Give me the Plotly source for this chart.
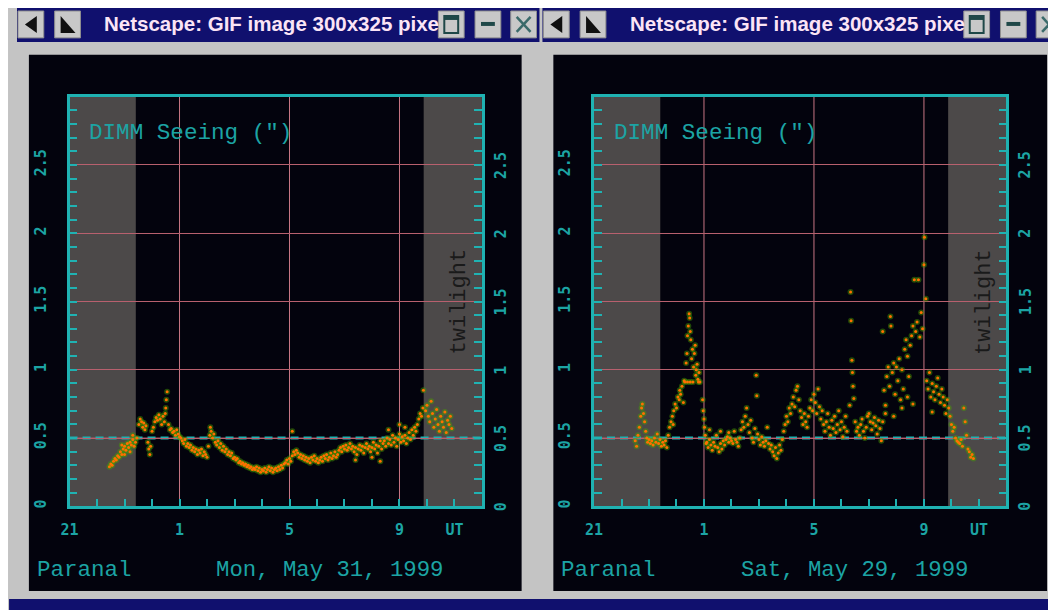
import plotly.graph_objects as go

# ---------------- data (UT hours, 21..36 ; 25 = 1 UT) ----------------
# Mon, May 31, 1999
T31 = [22.45, 22.50, 22.55, 22.60, 22.65, 22.70, 22.75, 22.80, 22.85, 22.90, 22.95, 23.00, 23.05, 23.10, 23.15,
       23.20, 23.25, 23.30, 23.35, 23.40, 23.45, 22.90, 23.00, 23.20, 23.30,
       23.52, 23.57, 23.62, 23.66, 23.70, 23.74, 23.78, 23.85, 23.88, 23.92, 23.95, 24.00, 24.05,
       24.10, 24.15, 24.20, 24.25, 24.30, 24.35, 24.40, 24.45, 24.50, 24.52, 24.55, 24.48, 24.60, 24.65,
       24.70, 24.75, 24.80, 24.85, 24.90, 24.95, 25.00, 25.05,
       25.10, 25.15, 25.20, 25.25, 25.30, 25.35, 25.40, 25.45, 25.50, 25.55, 25.60, 25.65, 25.70, 25.75,
       25.80, 25.85, 25.90, 25.95, 26.00,
       26.05, 26.10, 26.12, 26.15, 26.20, 26.25, 26.30,
       26.35, 26.40, 26.45, 26.50, 26.55, 26.60, 26.65, 26.70, 26.75, 26.80, 26.85, 26.90, 26.95, 27.00,
       27.05, 27.10, 27.15, 27.20, 27.25, 27.30, 27.35, 27.40, 27.45, 27.50, 27.55, 27.60, 27.65, 27.70,
       27.75, 27.80, 27.85, 27.90, 27.95, 28.00, 28.05, 28.10, 28.15, 28.20, 28.25, 28.30, 28.35, 28.40,
       28.45, 28.50, 28.55, 28.60, 28.65, 28.70, 28.75, 28.80,
       28.85, 28.90, 28.95, 29.00, 29.05, 29.10, 29.15, 29.20, 29.25, 29.30, 29.35, 29.40, 29.45, 29.50,
       29.55, 29.60, 29.10,
       29.65, 29.70, 29.75, 29.80, 29.85, 29.90, 29.95, 30.00, 30.05, 30.10, 30.15, 30.20, 30.25, 30.30,
       30.35, 30.40, 30.45, 30.50, 30.55, 30.60, 30.65, 30.70, 30.75, 30.80,
       30.85, 30.90, 30.95, 31.00, 31.05, 31.10, 31.15, 31.20, 31.25, 31.30, 31.35, 31.40, 31.45, 31.50,
       31.55, 31.60, 31.65, 31.70, 31.75, 31.80, 31.85, 31.90, 31.95, 32.00, 32.05, 32.10, 32.15, 32.20,
       32.25, 32.30, 32.35, 32.40, 31.40, 32.00, 32.30,
       32.45, 32.50, 32.55, 32.60, 32.65, 32.70, 32.75, 32.80, 32.85, 32.90, 32.95, 33.00, 33.05, 33.10,
       33.15, 33.20, 33.25, 33.30, 33.35, 33.40, 33.45, 33.50, 33.55, 33.60, 32.60, 33.00, 33.20,
       33.65, 33.70, 33.75, 33.80, 33.85, 33.87,
       33.95, 34.00, 34.05, 34.10, 34.15, 34.20, 34.25, 34.30, 34.35, 34.40, 34.45, 34.50, 34.55, 34.60,
       34.65, 34.70, 34.75, 34.80, 34.85, 34.90]
S31 = [0.29, 0.31, 0.30, 0.33, 0.35, 0.34, 0.37, 0.36, 0.40, 0.38, 0.42, 0.44, 0.41, 0.46, 0.43,
       0.47, 0.45, 0.49, 0.44, 0.47, 0.50, 0.45, 0.38, 0.40, 0.52,
       0.60, 0.64, 0.62, 0.58, 0.61, 0.56, 0.59, 0.47, 0.42, 0.38, 0.44, 0.55, 0.58,
       0.62, 0.65, 0.63, 0.67, 0.64, 0.60, 0.66, 0.62, 0.72, 0.78, 0.84, 0.68, 0.60, 0.56,
       0.57, 0.54, 0.55, 0.52, 0.56, 0.53, 0.51, 0.50,
       0.48, 0.46, 0.49, 0.44, 0.46, 0.43, 0.45, 0.41, 0.43, 0.40, 0.42, 0.38, 0.41, 0.39,
       0.42, 0.37, 0.40, 0.38, 0.36,
       0.44, 0.52, 0.58, 0.55, 0.50, 0.53, 0.47,
       0.45, 0.48, 0.43, 0.46, 0.41, 0.44, 0.40, 0.42, 0.38, 0.40, 0.37, 0.39, 0.35, 0.36,
       0.34, 0.35, 0.32, 0.33, 0.31, 0.32, 0.30, 0.31, 0.29, 0.30, 0.28, 0.29, 0.27, 0.28,
       0.27, 0.29, 0.26, 0.28, 0.25, 0.27, 0.26, 0.28, 0.25, 0.27, 0.29, 0.26, 0.28, 0.25,
       0.27, 0.28, 0.26, 0.29, 0.27, 0.30, 0.28, 0.31,
       0.32, 0.34, 0.31, 0.35, 0.33, 0.37, 0.40, 0.38, 0.41, 0.39, 0.36, 0.38, 0.35, 0.37,
       0.34, 0.36, 0.55,
       0.33, 0.35, 0.32, 0.36, 0.34, 0.37, 0.33, 0.35, 0.32, 0.34, 0.36, 0.33, 0.37, 0.35,
       0.38, 0.34, 0.36, 0.39, 0.35, 0.37, 0.40, 0.36, 0.38, 0.41,
       0.43, 0.40, 0.44, 0.42, 0.45, 0.41, 0.43, 0.46, 0.42, 0.44, 0.40, 0.43, 0.38, 0.42,
       0.45, 0.41, 0.44, 0.39, 0.43, 0.46, 0.42, 0.44, 0.40, 0.43, 0.47, 0.42, 0.45, 0.39,
       0.44, 0.48, 0.42, 0.46, 0.34, 0.36, 0.33,
       0.48, 0.44, 0.50, 0.46, 0.49, 0.45, 0.52, 0.47, 0.50, 0.44, 0.49, 0.53, 0.47, 0.51,
       0.48, 0.52, 0.46, 0.50, 0.54, 0.49, 0.56, 0.52, 0.58, 0.55, 0.56, 0.60, 0.58,
       0.60, 0.64, 0.68, 0.66, 0.72, 0.85,
       0.70, 0.74, 0.66, 0.62, 0.77, 0.68, 0.58, 0.64, 0.71, 0.60, 0.55, 0.66, 0.62, 0.58,
       0.69, 0.54, 0.63, 0.60, 0.66, 0.57]

# Sat, May 29, 1999
T29 = [22.50, 22.55, 22.60, 22.65, 22.70, 22.73, 22.76, 22.80, 22.84, 22.88, 22.92, 22.95, 23.00, 23.05,
       23.10, 23.15, 23.20, 23.25, 23.30, 23.35, 23.40, 23.45, 23.50, 23.55, 23.60, 23.65,
       23.70, 23.75, 23.80, 23.85, 23.88, 23.90, 23.95, 24.00, 24.05, 24.10, 24.12, 24.15, 24.20, 24.25, 24.28,
       24.30, 24.35, 24.38, 24.40, 24.43, 24.46, 24.48, 24.50, 24.52, 24.55, 24.58, 24.60, 24.62, 24.65,
       24.68, 24.70, 24.72, 24.75, 24.78, 24.80, 24.82, 24.85, 24.50, 24.40,
       24.95, 24.97, 25.00, 25.02, 25.05, 25.08,
       25.10, 25.15, 25.20, 25.25, 25.30, 25.35, 25.40, 25.45, 25.50, 25.55, 25.60, 25.65, 25.70, 25.75,
       25.80, 25.85, 25.90, 25.95, 26.00, 26.05, 26.10, 26.15, 26.20, 26.25, 25.20, 25.60, 25.90,
       26.30, 26.35, 26.40, 26.45, 26.50, 26.55, 26.60, 26.65, 26.70, 26.75, 26.80, 26.85, 26.90, 26.92,
       26.95, 27.00, 27.05, 27.10, 27.15, 27.20, 27.25, 27.30, 27.35, 27.40,
       27.45, 27.50, 27.55, 27.60, 27.65, 27.70, 27.75, 27.80, 27.85,
       27.90, 27.95, 28.00, 28.05, 28.10, 28.15, 28.20, 28.25, 28.30, 28.35, 28.40, 28.45, 28.50, 28.55,
       28.60, 28.65,
       28.70, 28.75, 28.80, 28.85, 28.90, 28.95, 29.00, 29.05, 29.10, 29.15, 29.20, 29.25, 29.30,
       29.35, 29.40, 29.45, 29.50, 29.55, 29.60, 29.65, 29.70, 29.75, 29.80, 29.85, 29.90, 29.95, 30.00,
       30.05, 30.10, 30.15, 30.20,
       30.30, 30.33, 30.35, 30.38, 30.40, 30.42, 30.45,
       30.50, 30.55, 30.60, 30.65, 30.70, 30.75, 30.80, 30.85, 30.90, 30.95, 31.00, 31.05, 31.10, 31.15,
       31.20, 31.25, 31.30, 31.35, 31.40, 31.45,
       31.50, 31.55, 31.78, 31.80, 31.65, 31.70, 31.75, 31.60, 31.85, 31.90, 31.95, 32.00, 32.05, 32.10,
       32.15, 32.20, 32.25, 32.30, 32.35, 32.40, 32.45, 32.50, 32.55, 32.60, 32.65, 32.70, 32.75, 32.80,
       32.85, 32.90, 32.95, 33.00, 33.02, 33.07,
       31.60, 31.90, 32.20, 32.40, 32.60, 31.50,
       33.10, 33.15, 33.20, 33.25, 33.30, 33.35, 33.40, 33.45, 33.50, 33.55, 33.60, 33.65, 33.70, 33.75,
       33.80, 33.30,
       33.85, 33.90, 33.95, 34.00, 34.05, 34.10, 34.15, 34.20, 34.25, 34.30, 34.35, 34.40, 34.45, 34.50,
       34.55, 34.60, 34.65, 34.70, 34.75, 34.80]
S29 = [0.48, 0.44, 0.52, 0.58, 0.66, 0.72, 0.75, 0.68, 0.62, 0.55, 0.50, 0.47, 0.49, 0.46,
       0.48, 0.45, 0.50, 0.47, 0.53, 0.46, 0.49, 0.44, 0.47, 0.45, 0.48, 0.43,
       0.52, 0.58, 0.62, 0.66, 0.60, 0.70, 0.75, 0.72, 0.80, 0.78, 0.85, 0.82, 0.88, 0.76, 0.92,
       0.91, 1.05, 1.12, 1.25, 1.32, 1.41, 1.38, 1.28, 1.22, 1.08, 1.15, 0.91, 1.02, 1.12,
       1.18, 0.96, 1.00, 1.04, 0.93, 0.91, 0.98, 0.91, 0.91, 0.91,
       0.78, 0.70, 0.64, 0.58, 0.52, 0.46,
       0.47, 0.43, 0.49, 0.45, 0.41, 0.47, 0.44, 0.52, 0.43, 0.40, 0.46, 0.42, 0.48, 0.45,
       0.49, 0.51, 0.47, 0.50, 0.48, 0.46, 0.55, 0.49, 0.47, 0.44, 0.56, 0.55, 0.54,
       0.50, 0.56, 0.62, 0.58, 0.66, 0.72, 0.60, 0.54, 0.63, 0.50, 0.47, 0.57, 0.96, 0.81,
       0.53, 0.49, 0.45, 0.51, 0.47, 0.44, 0.48, 0.58, 0.46, 0.42,
       0.45, 0.40, 0.37, 0.43, 0.35, 0.39, 0.45, 0.41, 0.49,
       0.55, 0.60, 0.66, 0.62, 0.72, 0.68, 0.75, 0.80, 0.73, 0.85, 0.88, 0.78, 0.70, 0.65,
       0.60, 0.68,
       0.62, 0.58, 0.66, 0.72, 0.78, 0.70, 0.82, 0.76, 0.68, 0.86, 0.73, 0.64, 0.70,
       0.60, 0.55, 0.62, 0.68, 0.58, 0.52, 0.63, 0.57, 0.66, 0.54, 0.60, 0.70, 0.56, 0.62,
       0.51, 0.58, 0.66, 0.55,
       0.74, 1.57, 1.36, 1.07, 0.98, 0.88, 0.79,
       0.62, 0.55, 0.58, 0.52, 0.60, 0.64, 0.55, 0.50, 0.58, 0.66, 0.68, 0.62, 0.56, 0.61,
       0.65, 0.59, 0.53, 0.63, 0.57, 0.48,
       0.62, 0.85, 1.39, 1.32, 0.95, 1.02, 0.88, 0.74, 0.98, 1.05, 0.82, 1.02, 0.92, 1.08,
       0.78, 1.00, 0.86, 1.15, 1.22, 1.10, 0.95, 1.18, 1.25, 1.32, 1.66, 1.28, 1.35, 1.66,
       1.24, 1.42, 1.30, 1.77, 1.97, 1.52,
       0.68, 0.66, 0.72, 0.80, 0.75, 1.28,
       0.92, 0.86, 0.98, 0.80, 0.90, 0.84, 0.78, 0.88, 0.94, 0.82, 0.76, 0.86, 0.80, 0.74,
       0.68, 0.69,
       0.78, 0.72, 0.66, 0.60, 0.55, 0.58, 0.50, 0.48, 0.47, 0.46, 0.49, 0.44, 0.72, 0.62,
       0.52, 0.42, 0.40, 0.36, 0.38, 0.35]

x_tickvals = [21, 25, 29, 33, 35]
x_ticktext = ["21", "1", "5", "9", "UT"]
y_tickvals = [0, 0.5, 1, 1.5, 2, 2.5]
y_ticktext = ["0", "0.5", "1", "1.5", "2", "2.5"]
grid_hours = [25, 29, 33]
evening_twilight = [21, 23.41]
morning_twilight = [33.88, 36]
reference_seeing = 0.5
x_range = [21, 36]
y_range = [0, 3]

# ---------------- canvas geometry ----------------
# The page body keeps its default 8 px margin (left and top), so the figure
# is 1048 x 602 and a screen position (X, Y) maps to paper ((X-8)/W, 1-(Y-8)/H).
OX, OY = 8, 8
W, H = 1048, 602


def px(X):
    return (X - OX) / W


def py(Y):
    return 1 - (Y - OY) / H


# ---------------- styling ----------------
CYAN = "#1fb2b2"
TXT = "#1ca4a4"
GRID = "#b8606e"
SHADE = "#4c4949"
BLACK = "#03030d"
NAVY = "#10106e"
GRAY = "#c4c4c4"
ICON = "#1f4848"
MONO = "Liberation Mono"
TICKFONT = dict(family="DejaVu Sans Mono", size=15, color=TXT, weight="bold")

panels = [
    dict(t=T31, s=S31, xa="x", ya="y", xd=[px(61), px(477)], off=0, date="Mon, May 31, 1999"),
    dict(t=T29, s=S29, xa="x2", ya="y2", xd=[px(590), px(1006)], off=529, date="Sat, May 29, 1999"),
]
ydom = [py(508), py(97)]

fig = go.Figure()
shapes = []
annotations = []


def prect(x0, y0, x1, y1, color, line=None):
    return dict(type="rect", xref="paper", yref="paper", x0=px(x0), x1=px(x1),
                y0=py(y1), y1=py(y0), fillcolor=color,
                line=line if line else dict(width=0), layer="below")


def ppath(pts, color):
    d = "M " + " L ".join(f"{px(x):.5f},{py(y):.5f}" for x, y in pts) + " Z"
    return dict(type="path", xref="paper", yref="paper", path=d, fillcolor=color,
                line=dict(width=0), layer="below")


def pline(x0, y0, x1, y1, color, width):
    return dict(type="line", xref="paper", yref="paper", x0=px(x0), x1=px(x1),
                y0=py(y0), y1=py(y1), line=dict(color=color, width=width), layer="below")


# page chrome
shapes.append(prect(0, 0, 1056, 602, GRAY))
shapes.append(prect(0, 601, 1056, 612, NAVY))
for k, (wx0, wx1) in enumerate([(8, 535), (538, 1056)]):
    off = 0 if k == 0 else 530
    shapes.append(prect(wx0, 8, wx1, 42, NAVY))
    for bx in [9, 46, 433, 470, 506]:
        shapes.append(prect(bx + off, 11, bx + off + 26, 38, "#c8c8c8",
                            dict(color="#909090", width=1)))
    shapes.append(ppath([(16 + off, 24.5), (28 + off, 16), (28 + off, 33)], "#101010"))
    shapes.append(ppath([(52 + off, 16), (52 + off, 33), (67 + off, 33)], "#101010"))
    shapes.append(prect(439 + off, 16, 453 + off, 33, "#c8c8c8", dict(color=ICON, width=2)))
    shapes.append(prect(439 + off, 16, 453 + off, 20, ICON))
    shapes.append(prect(476 + off, 22, 490 + off, 26, ICON))
    shapes.append(pline(512 + off, 17, 526 + off, 32, "#3a6a6a", 2.5))
    shapes.append(pline(512 + off, 32, 526 + off, 17, "#3a6a6a", 2.5))
    annotations.append(dict(xref="paper", yref="paper", x=px(94 + off), y=py(24),
                            xanchor="left", yanchor="middle",
                            text="<b>Netscape: GIF image 300x325 pixe</b>", showarrow=False,
                            font=dict(size=20.5, color="#fbe4f6", family="Liberation Sans")))

for k, p in enumerate(panels):
    off = p["off"]
    shapes.append(prect(20 + off, 55, 517 + off + (1 if k else 0), 593, BLACK))
    xa, ya = p["xa"], p["ya"]
    xref = xa
    yref = ya
    yref_dom = yref + " domain"
    for (a, b) in [evening_twilight, morning_twilight]:
        shapes.append(dict(type="rect", xref=xref, yref=yref_dom, x0=a, x1=b, y0=0, y1=1,
                           fillcolor=SHADE, line=dict(width=0), layer="below"))
    for g in grid_hours:
        shapes.append(dict(type="line", xref=xref, yref=yref_dom, x0=g, x1=g, y0=0, y1=1,
                           line=dict(color="#c87684", width=1), layer="below"))
    shapes.append(dict(type="line", xref=xref, yref=yref, x0=x_range[0], x1=x_range[1],
                       y0=reference_seeing, y1=reference_seeing,
                       line=dict(color=GRID, width=1), layer="below"))
    shapes.append(dict(type="line", xref=xref, yref=yref, x0=x_range[0], x1=x_range[1],
                       y0=reference_seeing, y1=reference_seeing,
                       line=dict(color=CYAN, width=3, dash="8px,5px"), layer="below"))

    fig.add_trace(go.Scatter(x=p["t"], y=p["s"], mode="markers", xaxis=xa, yaxis=ya,
                             marker=dict(size=6, color="rgba(70,160,0,0.45)", line=dict(width=0)),
                             hoverinfo="skip", showlegend=False))
    fig.add_trace(go.Scatter(x=p["t"], y=p["s"], mode="markers", xaxis=xa, yaxis=ya,
                             marker=dict(size=3, color="#ff7000", line=dict(width=0)),
                             hoverinfo="skip", showlegend=False))

    # right-hand tick labels, placed on the y scale
    for v, lab in zip(y_tickvals, y_ticktext):
        annotations.append(dict(xref=xref + " domain", yref=yref, x=1, y=v, text=lab,
                                xanchor="center", yanchor="middle", xshift=19,
                                textangle=-90, showarrow=False, font=TICKFONT))

    annotations.append(dict(xref="paper", yref="paper", x=px(79 + off), y=py(133),
                            xanchor="left", yanchor="middle", text='DIMM Seeing (")',
                            showarrow=False, font=dict(size=22.6, color=TXT, family=MONO)))
    annotations.append(dict(xref=xref, yref=yref, x=35.2, y=1.5, text="twilight",
                            textangle=-90, showarrow=False,
                            font=dict(size=22, color="#1a1a1a", family=MONO)))
    annotations.append(dict(xref="paper", yref="paper", x=px(26 + off), y=py(572),
                            xanchor="left", yanchor="middle", text="Paranal",
                            showarrow=False, font=dict(size=22.5, color=TXT, family=MONO)))
    annotations.append(dict(xref="paper", yref="paper", x=px(207 + off), y=py(572),
                            xanchor="left", yanchor="middle", text=p["date"],
                            showarrow=False, font=dict(size=22.3, color=TXT, family=MONO)))


def xaxis(dom, anchor):
    return dict(domain=dom, anchor=anchor, range=x_range, showgrid=False, zeroline=False,
                showline=True, linecolor=CYAN, linewidth=2.5, mirror=True,
                ticks="inside", ticklen=8, tickwidth=2, tickcolor=CYAN,
                tickmode="array", tickvals=x_tickvals, ticktext=x_ticktext, tickfont=TICKFONT,
                minor=dict(tick0=21, dtick=1, ticks="inside", ticklen=8, tickwidth=2,
                           tickcolor=CYAN, showgrid=False),
                ticklabelstandoff=8, fixedrange=True)


def yaxis(anchor):
    return dict(domain=ydom, anchor=anchor, range=y_range, zeroline=False,
                showline=True, linecolor=CYAN, linewidth=2.5, mirror="allticks",
                ticks="inside", ticklen=8, tickwidth=2, tickcolor=CYAN,
                tickmode="array", tickvals=y_tickvals, ticktext=y_ticktext, tickfont=TICKFONT,
                tickangle=-90,
                minor=dict(tick0=0, dtick=0.1, ticks="inside", ticklen=8, tickwidth=2,
                           tickcolor=CYAN, showgrid=False),
                showgrid=True, gridcolor=GRID, gridwidth=1, ticklabelstandoff=15,
                fixedrange=True)


fig.update_layout(
    width=W, height=H, autosize=False,
    margin=dict(l=0, r=0, t=0, b=0, pad=0),
    paper_bgcolor=GRAY, plot_bgcolor="rgba(0,0,0,0)",
    showlegend=False,
    xaxis=xaxis(panels[0]["xd"], "y"),
    xaxis2=xaxis(panels[1]["xd"], "y2"),
    yaxis=yaxis("x"),
    yaxis2=yaxis("x2"),
    shapes=shapes,
    annotations=annotations,
)

fig.write_html("out.html", config={"displayModeBar": False})
